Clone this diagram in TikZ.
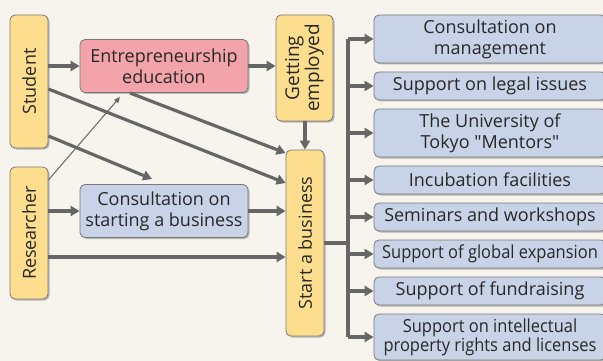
\documentclass[tikz,border=0pt]{standalone}
\usepackage{fontspec}
\setmainfont{Open Sans}[Ligatures=TeXOff]
\usepackage{tikz}
\usetikzlibrary{arrows.meta, positioning, shadows}
\definecolor{cBack}{RGB}{246,244,236}
\definecolor{cYellow}{RGB}{253,222,143}
\definecolor{cPink}{RGB}{243,164,170}
\definecolor{cBlue}{RGB}{200,211,232}
\definecolor{cLine}{RGB}{102,102,102}
\definecolor{cEdge}{RGB}{120,120,120}
\definecolor{cText}{RGB}{40,40,40}
\newcommand{\squeeze}[1]{\scalebox{0.915}[1]{#1}}
\tikzset{
	boxbase/.style  ={rectangle, rounded corners=5pt, draw=cEdge, line width=0.8pt, text=cText, align=center, inner sep=2pt,
		drop shadow={shadow xshift=1.5pt, shadow yshift=-1.5pt, opacity=0.25, fill=black}},
	person/.style   ={boxbase, rotate=90, fill=cYellow, minimum height=38pt},
	course/.style   ={boxbase, minimum width=168pt, minimum height=53pt},
	service/.style  ={boxbase, fill=cBlue, minimum width=232pt, minimum height=28pt},
	flowarrow/.style={-{Triangle[length=9pt, width=10pt]}, line width=3.2pt, draw=cLine},
	thinarrow/.style={-{Triangle[length=6pt, width=5pt]}, line width=1pt, draw=cLine},
	trunk/.style    ={line width=3.2pt, draw=cLine},
}
\begin{document}
\begin{tikzpicture}[x=1pt, y=-1pt, font=\fontsize{18}{21}\selectfont, node distance=8.2pt]
	\fill[cBack] (0,0) rectangle (603,361);
	\useasboundingbox (0,0) rectangle (603,361);
	% people and stages
	\node[person, minimum width=133pt] (stu) at (29,81.5) {Student};
	\node[person, minimum width=132pt] (res) at (29,233) {Researcher};
	\node[course, fill=cPink] (edu) at (164,66) {Entrepreneurship\\education};
	\node[course, fill=cBlue] (con) at (164,211) {Consultation on\\starting a business};
	\node[person, minimum width=106pt, minimum height=57pt, font=\fontsize{19}{20}\selectfont] (job) at (304.5,68) {Getting\\employed};
	\node[person, minimum width=186pt] (biz) at (305,243) {Start a business};
	% support menu
	\node[service, minimum height=48pt] (s1) at (490,39) {Consultation on\\management};
	\node[service, below=of s1] (s2) {Support on legal issues};
	\node[service, minimum height=48pt, below=of s2] (s3) {The University of\\Tokyo "Mentors"};
	\node[service, below=of s3] (s4) {Incubation facilities};
	\node[service, below=of s4] (s5) {Seminars and workshops};
	\node[service, below=of s5] (s6) {\squeeze{Support of global expansion}};
	\node[service, below=of s6] (s7) {Support of fundraising};
	\node[service, minimum height=46pt, below=of s7, font=\fontsize{18}{19}\selectfont] (s8) {\squeeze{Support on intellectual}\\\squeeze{property rights and licenses}};
	% arrows on the left
	\draw[flowarrow] (stu.south |- edu.west) -- (edu.west);
	\draw[flowarrow] (edu.east) -- (edu.east -| job.north);
	\draw[flowarrow] (res.south |- con.west) -- (con.west);
	\draw[flowarrow] (con.east) -- (con.east -| biz.north);
	\draw[flowarrow] (res.south |- 0,257) -- (biz.north |- 0,257);
	\draw[flowarrow] (130,93) -- (biz.north |- 0,153);
	\draw[flowarrow] (stu.south |- 0,89) -- (biz.north |- 0,183);
	\draw[flowarrow] (stu.south |- 0,136) -- (152,179);
	\draw[thinarrow] (res.south |- 0,180) -- (120,97);
	\draw[flowarrow] (job.west -| biz) -- (biz.east);
	% trunk to the services
	\coordinate (fork) at (348,0);
	\draw[trunk] (biz.south) -- (biz.south -| fork);
	\draw[trunk] (fork |- s1) -- (fork |- s8);
	\foreach \s in {s1,s2,s3,s4,s5,s6,s7,s8}
		\draw[flowarrow] (fork |- \s) -- (\s.west);
\end{tikzpicture}
\end{document}
